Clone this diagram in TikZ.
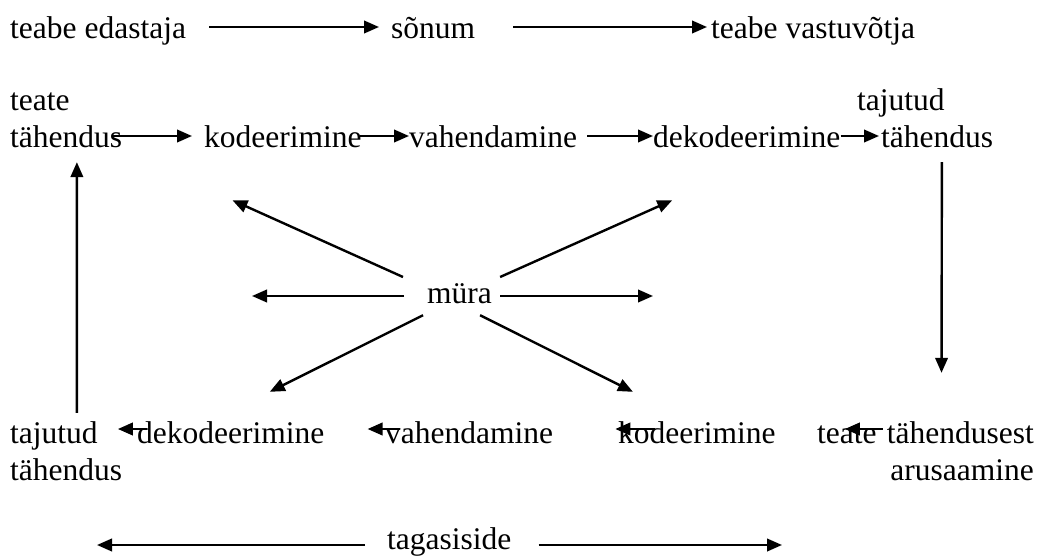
\documentclass[tikz,border=0pt]{standalone}
\usepackage{fontspec}
\setmainfont{Liberation Serif}
\usetikzlibrary{arrows.meta}
\tikzset{
  lbl/.style={inner sep=0pt, anchor=base west, text height=22pt, text depth=0pt, font=\fontsize{31.5}{37}\selectfont},
  lblr/.style={lbl, anchor=base east},
  arr/.style={line width=2.4pt, -{Triangle[length=15pt,width=12.5pt]}}
}
\begin{document}
\begin{tikzpicture}[x=1pt,y=-1pt]
\useasboundingbox (0,0) rectangle (1055,555);
% row 1
\node[lbl] (ed)  at (10,38)  {teabe edastaja};
\node[lbl] (son) at (391,38) {sõnum};
\node[lbl] (vas) at (711,38) {teabe vastuvõtja};
% row 2
\node[lbl] (teate1) at (10,110) {teate};
\node[lbl] (tah1)   at (10,147) {tähendus};
\node[lbl] (kod1)   at (204,147) {kodeerimine};
\node[lbl] (vah1)   at (409,147) {vahendamine};
\node[lbl] (dek1)   at (653,147) {dekodeerimine};
\node[lbl] (taj1)   at (857,110) {tajutud};
\node[lbl] (tah2)   at (881,147) {tähendus};
% noise
\node[lbl] (mura) at (427,303) {müra};
% bottom row
\node[lbl] (taj2)   at (10,443)  {tajutud};
\node[lbl] (tah3)   at (10,480)  {tähendus};
\node[lbl] (dek2)   at (137,443) {dekodeerimine};
\node[lbl] (vah2)   at (385,443) {vahendamine};
\node[lbl] (kod2)   at (618,443) {kodeerimine};
\node[lbl] (teate2) at (817,443) {teate};
\node[lblr] (tahu)  at (1034,443) {tähendusest};
\node[lblr] (arus)  at (1034,480) {arusaamine};
\node[lbl] (tag)    at (387,549) {tagasiside};
\coordinate (nl) at (252,296);
\coordinate (nr) at (653,296);
\coordinate (fbL) at (97,545);
\coordinate (fbR) at (782,545);
% row 1 arrows
\draw[arr] ([xshift=23pt]ed.east) -- ([xshift=-12pt]son.west);
\draw[arr] ([xshift=38pt]son.east) -- ([xshift=-4pt]vas.west);
% row 2 arrows
\draw[arr] ([xshift=-9pt]tah1.east) -- ([xshift=-12pt]kod1.west);
\draw[arr] ([xshift=-2pt]kod1.east) -- (vah1.west);
\draw[arr] ([xshift=10pt]vah1.east) -- (dek1.west);
\draw[arr] (dek1.east) -- ([xshift=-2pt]tah2.west);
% verticals
\draw[arr] ([xshift=23pt,yshift=8pt]taj2.north) -- ([xshift=10.7pt,yshift=-15pt]tah1.south);
\draw[arr] ([xshift=4.7pt,yshift=-15pt]tah2.south) -- ([xshift=-18.8pt,yshift=48pt]tahu.north);
% noise arrows
\draw[arr] ([xshift=-24pt,yshift=15pt]mura.west) -- ([xshift=-50.5pt,yshift=-53pt]kod1.south);
\draw[arr] ([xshift=8pt,yshift=15pt]mura.east) -- ([xshift=-74.5pt,yshift=-53pt]dek1.south);
\draw[arr] ([xshift=-23pt,yshift=-4pt]mura.west) -- (nl);
\draw[arr] ([xshift=8pt,yshift=-4pt]mura.east) -- (nr);
\draw[arr] ([xshift=-36.5pt,yshift=-12pt]mura.south) -- ([xshift=39pt,yshift=29pt]dek2.north);
\draw[arr] ([xshift=20.5pt,yshift=-12pt]mura.south) -- ([xshift=-64pt,yshift=29pt]kod2.north);
% bottom row arrows
\draw[arr] ([xshift=10pt,yshift=3pt]dek2.west) -- ([xshift=20pt,yshift=3pt]taj2.east);
\draw[arr] ([xshift=15pt,yshift=3pt]vah2.west) -- ([xshift=43pt,yshift=3pt]dek2.east);
\draw[arr] ([xshift=37pt,yshift=3pt]kod2.west) -- ([xshift=62pt,yshift=3pt]vah2.east);
\draw[arr] ([xshift=-4pt,yshift=3pt]tahu.west) -- ([xshift=-32pt,yshift=3pt]teate2.east);
% feedback
\draw[arr] ([xshift=-22pt,yshift=-7pt]tag.west) -- (fbL);
\draw[arr] ([xshift=27pt,yshift=-7pt]tag.east) -- (fbR);
\end{tikzpicture}
\end{document}
